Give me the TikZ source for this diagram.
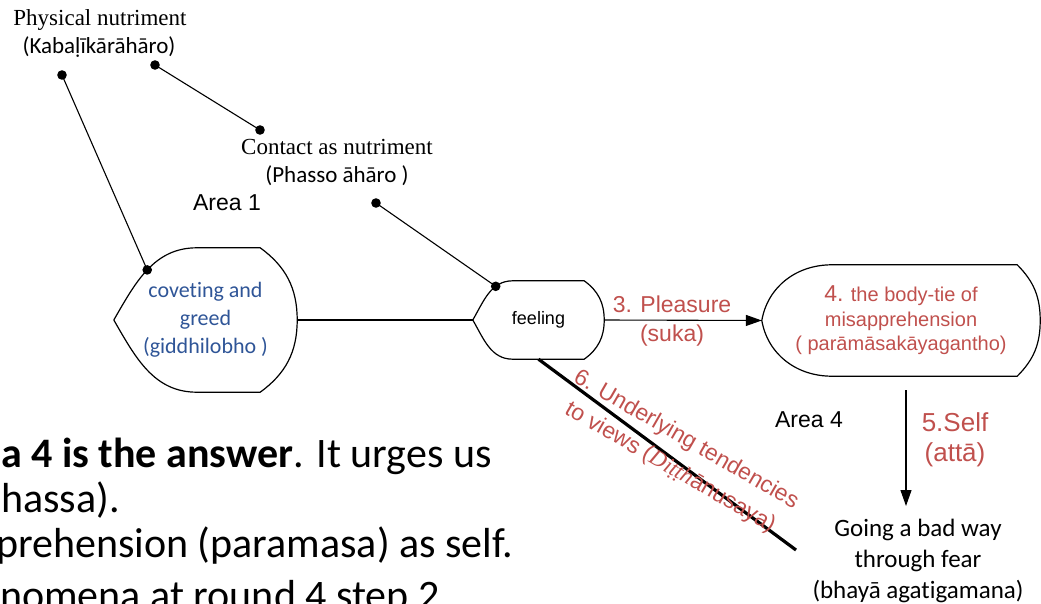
\documentclass[tikz,border=0pt]{standalone}
\usepackage{fontspec}
\setmainfont{Liberation Sans}
\newfontfamily\serifface{Liberation Serif}
\newfontfamily\armface{Liberation Sans}
\newfontfamily\calface{Carlito}[Ligatures=NoCommon]
\usetikzlibrary{arrows.meta,calc}
\definecolor{labelred}{HTML}{C0504D}
\definecolor{labelblue}{HTML}{2F5597}

% outline of a "display" shape around a node:
% #1 node, #2 length of the pointed left part, #3 length of the right bulge,
% #4 angle at the left tip, #5 angle at the upper right corner, #6 position of the dot
\newcommand\displayoutline[6]{%
  \draw[outline] (#1.west) to[out=#4,in=180] coordinate[pos=#6] (#1-dot)
    ([xshift=#2pt]#1.north west) -- ([xshift=-#3pt]#1.north east)
    to[out=#5,in=90] (#1.east)
    to[out=-90,in=-#5] ([xshift=-#3pt]#1.south east)
    -- ([xshift=#2pt]#1.south west)
    to[out=180,in=-#4] (#1.west) -- cycle;}

\begin{document}
\begin{tikzpicture}[x=1pt,y=-1pt,
  outline/.style={draw=black, line width=1.2pt, line join=round},
  link/.style={draw=black, line width=1.1pt},
  arr/.style={link, -{Triangle[length=16pt,width=11pt]}},
  shapebox/.style={rectangle, inner sep=0pt, align=center},
  redlabel/.style={text=labelred, align=center},
  dot/.style={fill=black},
  bodytext/.style={anchor=base west, inner sep=0pt, font=\calface\fontsize{42}{46}\selectfont},
]
\path[use as bounding box, clip] (0,0) rectangle (1041,604);

% captions at the top
\node[font=\serifface\fontsize{23}{27}\selectfont] (phys) at (100,20) {Physical nutriment};
\node[font=\calface\fontsize{23}{27}\selectfont] (kaba) at (99,47) {(Kabaḷīkārāhāro)};
\node[font=\serifface\fontsize{23}{27}\selectfont] (contact) at (337,147) {Contact as nutriment};
\node[font=\calface\fontsize{23}{27}\selectfont] (phasso) at (337,176) {(Phasso āhāro )};
\node[font=\armface\fontsize{23}{27}\selectfont] (area1) at (227,203) {Area 1};
\node[font=\armface\fontsize{23}{27}\selectfont] (area4) at (809,420) {Area 4};

% the three display shapes
\node[shapebox, minimum width=183pt, minimum height=144pt, text=labelblue,
      font=\calface\fontsize{22}{28}\selectfont] (covet) at (205.5,320)
      {coveting and\\greed\\(giddhilobho )};
\node[shapebox, minimum width=131pt, minimum height=78pt,
      font=\armface\fontsize{18}{22}\selectfont] (feel) at (538.5,320) {feeling};
\node[shapebox, minimum width=278pt, minimum height=111pt, text=labelred,
      font=\armface\fontsize{20}{24.5}\selectfont] (tie) at (901,320.5)
      {{\fontsize{23}{24.5}\selectfont 4.} the body-tie of\\misapprehension\\( parāmāsakāyagantho)};

\displayoutline{covet}{83}{37}{60}{-36}{0.5}
\displayoutline{feel}{40}{20}{60}{-36}{0.68}
\displayoutline{tie}{70}{23}{80}{-45}{0.5}

% free ends of the connectors
\coordinate (physA) at (62,75);
\coordinate (physB) at (155,65);
\coordinate (contactA) at (260,130);
\coordinate (contactB) at (376,203);
\coordinate (diagEnd) at (796,550);
\coordinate (selfTop) at (906,390);
\coordinate (selfTip) at (906,506);

% connectors
\draw[link] (physA) -- (covet-dot);
\draw[link] (physB) -- (contactA);
\draw[link] (contactB) -- (feel-dot);
\draw[link] (covet.east) -- (feel.west);
\draw[arr] (feel.east) -- (tie.west);
\draw[line width=3.2pt] (feel.south) -- (diagEnd);
\draw[arr] (selfTop) -- (selfTip);

% dots on the connector ends
\foreach \p in {physA,physB,contactA,contactB,covet-dot,feel-dot}
  \fill[dot] (\p) circle (4.8pt);

% labels of the connectors
\node[redlabel, font=\armface\fontsize{23}{29}\selectfont] (pleasure) at (672,321)
  {3. Pleasure\\(suka)};
\node[redlabel, font=\armface\fontsize{26}{30}\selectfont] (self) at (955,440)
  {5.Self\\(attā)};
\node[redlabel, rotate=-30, font=\armface\fontsize{23}{32}\selectfont] (tendency) at (678,454)
  {6. Underlying tendencies\\to views ({\serifface\itshape Diṭṭh}ānusaya)};

\node[align=center, font=\calface\fontsize{25}{31}\selectfont] (going) at (918,561)
  {Going a bad way\\through fear\\(bhayā agatigamana)};

% body text at the lower left
\node[bodytext] (l1) at (1,467) {\textbf{a 4 is the answer}. It urges us};
\node[bodytext] (l2) at (1,512) {hassa).};
\node[bodytext] (l3) at (-4,557) {prehension (paramasa) as self.};
\node[bodytext] (l4) at (0,609) {nomena at round 4 step 2};
\end{tikzpicture}
\end{document}
